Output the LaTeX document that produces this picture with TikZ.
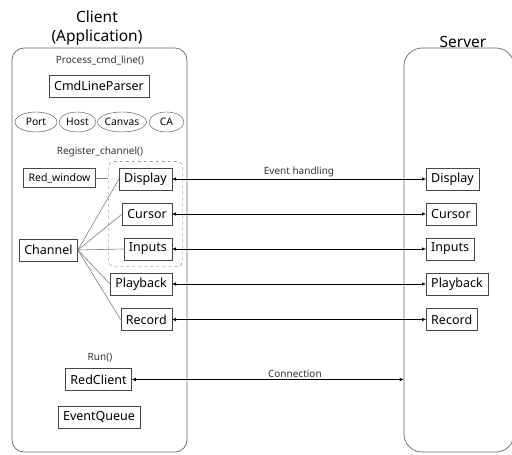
\documentclass[tikz,border=0pt]{standalone}
\usepackage{fontspec}
\setmainfont{Noto Sans}
\usetikzlibrary{positioning,fit,shapes.geometric,arrows.meta}
\definecolor{EdgeGray}{RGB}{70,70,70}
\definecolor{LinkGray}{RGB}{125,125,125}
\tikzset{
  box/.style={draw=EdgeGray,fill=white,inner xsep=5pt,inner ysep=0pt,minimum height=22pt,
    font=\fontsize{12.5}{14}\selectfont},
  opt/.style={ellipse,draw=EdgeGray,inner sep=0pt,minimum height=20pt,
    font=\fontsize{10.3}{12}\selectfont},
  note/.style={font=\fontsize{10}{12}\selectfont,text=black!80,inner sep=2pt},
  title/.style={font=\fontsize{15.5}{19}\selectfont,align=center},
  side/.style={draw=black!60,line width=0.7pt},
  grp/.style={draw=black!60,dashed,rounded corners=6pt,inner xsep=10.5pt,inner ysep=6.5pt},
  link/.style={draw=LinkGray,line width=0.6pt},
  biarrow/.style={draw=black,line width=0.6pt,
    {Latex[length=4pt,width=3.5pt]}-{Latex[length=4pt,width=3.5pt]}},
}

\begin{document}
\begin{tikzpicture}[x=1pt,y=-1pt]
  \useasboundingbox (0,0) rectangle (512,455);
  % the two sides
  \node[side,rounded corners=12pt,minimum width=175,minimum height=404] (client) at (99.5,250) {};
  \node[side,rounded corners=18pt,minimum width=110,minimum height=404] (server) at (459,250) {};
  \node[title] at (97,28) {Client\\(Application)};
  \node[title] at (463,42) {Server};

  % command line
  \node[note] (pcl) at (100,60) {Process\_cmd\_line()};
  \node[box] (parser) at (99,86) {CmdLineParser};
  \node[opt,minimum width=42] (port) at (36,122) {Port};
  \node[opt,minimum width=37] (host) at (77.5,122) {Host};
  \node[opt,minimum width=43] (canvas) at (122,122) {Canvas};
  \node[opt,minimum width=35] (ca) at (166.5,122) {CA};

  % channels
  \node[note] (reg) at (100,152) {Register\_channel()};
  \node[box,minimum height=19,font=\fontsize{10.5}{12}\selectfont] (redwin) at (59.5,178) {Red\_window};
  \node[box,anchor=east] (cdisplay) at (172,179) {Display};
  \node[box,anchor=east] (ccursor) at (172,214) {Cursor};
  \node[box,anchor=east] (cinputs) at (172,249) {Inputs};
  \node[box,anchor=east] (cplayback) at (172,284) {Playback};
  \node[box,anchor=east] (crecord) at (172,319.5) {Record};
  \node[grp,fit=(cdisplay)(ccursor)(cinputs)] (chgrp) {};
  \node[box] (channel) at (48.5,250) {Channel};
  \draw[link] (redwin.east) -- (redwin.east -| chgrp.west);
  \foreach \c in {cdisplay,ccursor,cinputs,cplayback,crecord}
    \draw[link] (channel.east) -- (\c.west);

  % main loop
  \node[note] (run) at (100,358) {Run()};
  \node[box] (redclient) at (98.5,379.5) {RedClient};
  \node[box] (evqueue) at (99,417.5) {EventQueue};

  % server channels
  \node[box,anchor=west] (sdisplay) at (426,179) {Display};
  \node[box,anchor=west] (scursor) at (426,214) {Cursor};
  \node[box,anchor=west] (sinputs) at (426,249) {Inputs};
  \node[box,anchor=west] (splayback) at (426,284) {Playback};
  \node[box,anchor=west] (srecord) at (426,319.5) {Record};

  \draw[biarrow] (cdisplay.east) -- node[note,above]{Event handling} (sdisplay.west);
  \foreach \a/\b in {ccursor/scursor,cinputs/sinputs,cplayback/splayback,crecord/srecord}
    \draw[biarrow] (\a.east) -- (\b.west);
  \draw[biarrow] (redclient.east) -- node[note,above,pos=0.6]{Connection} (redclient.east -| server.west);
\end{tikzpicture}
\end{document}
